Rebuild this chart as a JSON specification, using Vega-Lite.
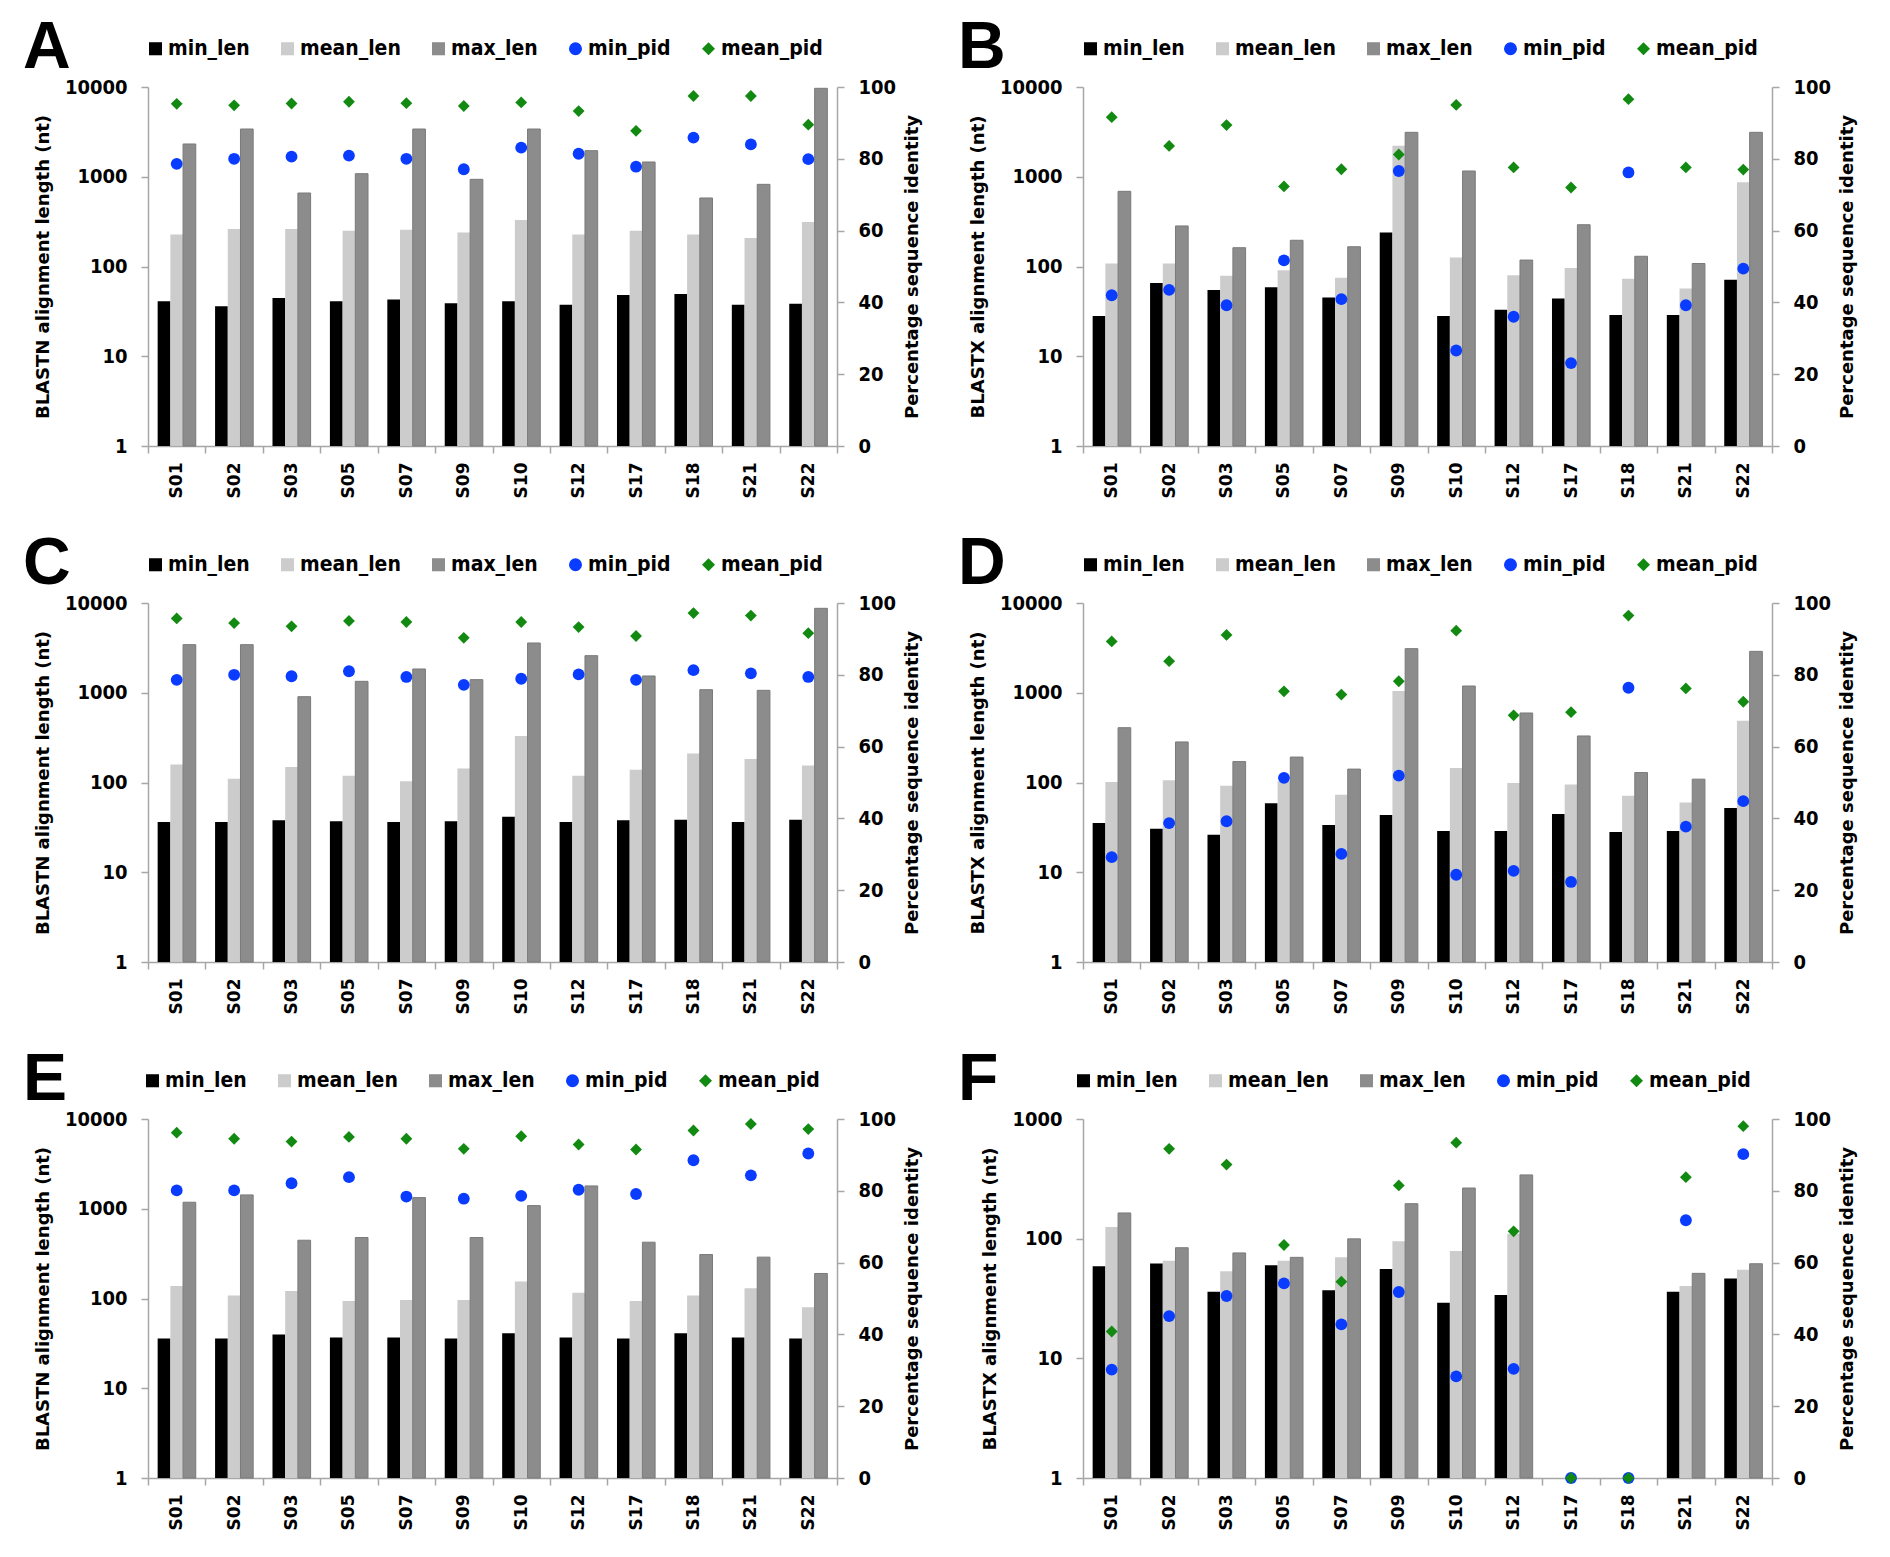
{
  "$schema": "https://vega.github.io/schema/vega-lite/v6.json",
  "background": "white",
  "padding": {"left": 23, "top": 38, "right": 5, "bottom": 5},
  "datasets": {
    "d": [
      {"p": "A", "s": "S01", "min_len": 41, "mean_len": 228, "max_len": 2317, "min_pid": 78.6, "mean_pid": 95.3},
      {"p": "A", "s": "S02", "min_len": 36, "mean_len": 262, "max_len": 3404, "min_pid": 80.0, "mean_pid": 94.9},
      {"p": "A", "s": "S03", "min_len": 44.6, "mean_len": 262, "max_len": 659, "min_pid": 80.6, "mean_pid": 95.4},
      {"p": "A", "s": "S05", "min_len": 41, "mean_len": 251, "max_len": 1082, "min_pid": 80.9, "mean_pid": 95.9},
      {"p": "A", "s": "S07", "min_len": 43, "mean_len": 257, "max_len": 3404, "min_pid": 80.0, "mean_pid": 95.5},
      {"p": "A", "s": "S09", "min_len": 39, "mean_len": 240, "max_len": 936, "min_pid": 77.1, "mean_pid": 94.7},
      {"p": "A", "s": "S10", "min_len": 41, "mean_len": 330, "max_len": 3404, "min_pid": 83.1, "mean_pid": 95.7},
      {"p": "A", "s": "S12", "min_len": 37.6, "mean_len": 228, "max_len": 1953, "min_pid": 81.4, "mean_pid": 93.3},
      {"p": "A", "s": "S17", "min_len": 48, "mean_len": 251, "max_len": 1460, "min_pid": 77.8, "mean_pid": 87.8},
      {"p": "A", "s": "S18", "min_len": 49.4, "mean_len": 228, "max_len": 580, "min_pid": 85.9, "mean_pid": 97.5},
      {"p": "A", "s": "S21", "min_len": 37.6, "mean_len": 208, "max_len": 823, "min_pid": 84.0, "mean_pid": 97.5},
      {"p": "A", "s": "S22", "min_len": 38.5, "mean_len": 313, "max_len": 9670, "min_pid": 79.9, "mean_pid": 89.5},
      {"p": "B", "s": "S01", "min_len": 28, "mean_len": 108, "max_len": 688, "min_pid": 42.0, "mean_pid": 91.6},
      {"p": "B", "s": "S02", "min_len": 65.5, "mean_len": 108, "max_len": 283, "min_pid": 43.5, "mean_pid": 83.6},
      {"p": "B", "s": "S03", "min_len": 54.7, "mean_len": 79, "max_len": 162, "min_pid": 39.2, "mean_pid": 89.4},
      {"p": "B", "s": "S05", "min_len": 58.6, "mean_len": 91, "max_len": 196, "min_pid": 51.7, "mean_pid": 72.3},
      {"p": "B", "s": "S07", "min_len": 45, "mean_len": 75, "max_len": 166, "min_pid": 40.9, "mean_pid": 77.1},
      {"p": "B", "s": "S09", "min_len": 240, "mean_len": 2220, "max_len": 3126, "min_pid": 76.6, "mean_pid": 81.2},
      {"p": "B", "s": "S10", "min_len": 28, "mean_len": 126, "max_len": 1159, "min_pid": 26.6, "mean_pid": 95.0},
      {"p": "B", "s": "S12", "min_len": 33, "mean_len": 80, "max_len": 118, "min_pid": 36.0, "mean_pid": 77.6},
      {"p": "B", "s": "S17", "min_len": 44, "mean_len": 96, "max_len": 292, "min_pid": 23.1, "mean_pid": 72.0},
      {"p": "B", "s": "S18", "min_len": 28.8, "mean_len": 73, "max_len": 130, "min_pid": 76.2, "mean_pid": 96.6},
      {"p": "B", "s": "S21", "min_len": 28.8, "mean_len": 57, "max_len": 108, "min_pid": 39.2, "mean_pid": 77.6},
      {"p": "B", "s": "S22", "min_len": 71, "mean_len": 867, "max_len": 3126, "min_pid": 49.4, "mean_pid": 77.0},
      {"p": "C", "s": "S01", "min_len": 36.3, "mean_len": 159, "max_len": 3435, "min_pid": 78.6, "mean_pid": 95.7},
      {"p": "C", "s": "S02", "min_len": 36.3, "mean_len": 110, "max_len": 3435, "min_pid": 80.0, "mean_pid": 94.4},
      {"p": "C", "s": "S03", "min_len": 37.9, "mean_len": 149, "max_len": 904, "min_pid": 79.6, "mean_pid": 93.5},
      {"p": "C", "s": "S05", "min_len": 36.9, "mean_len": 119, "max_len": 1340, "min_pid": 81.0, "mean_pid": 95.0},
      {"p": "C", "s": "S07", "min_len": 36.3, "mean_len": 103, "max_len": 1840, "min_pid": 79.4, "mean_pid": 94.7},
      {"p": "C", "s": "S09", "min_len": 36.9, "mean_len": 143, "max_len": 1400, "min_pid": 77.2, "mean_pid": 90.3},
      {"p": "C", "s": "S10", "min_len": 41.6, "mean_len": 330, "max_len": 3584, "min_pid": 78.9, "mean_pid": 94.7},
      {"p": "C", "s": "S12", "min_len": 36.3, "mean_len": 119, "max_len": 2589, "min_pid": 80.1, "mean_pid": 93.3},
      {"p": "C", "s": "S17", "min_len": 37.9, "mean_len": 139, "max_len": 1538, "min_pid": 78.6, "mean_pid": 90.8},
      {"p": "C", "s": "S18", "min_len": 38.5, "mean_len": 210, "max_len": 1082, "min_pid": 81.3, "mean_pid": 97.2},
      {"p": "C", "s": "S21", "min_len": 36.3, "mean_len": 183, "max_len": 1064, "min_pid": 80.4, "mean_pid": 96.5},
      {"p": "C", "s": "S22", "min_len": 38.5, "mean_len": 155, "max_len": 8724, "min_pid": 79.4, "mean_pid": 91.6},
      {"p": "D", "s": "S01", "min_len": 35.4, "mean_len": 101, "max_len": 408, "min_pid": 29.2, "mean_pid": 89.3},
      {"p": "D", "s": "S02", "min_len": 30.6, "mean_len": 106, "max_len": 283, "min_pid": 38.7, "mean_pid": 83.8},
      {"p": "D", "s": "S03", "min_len": 26.2, "mean_len": 92, "max_len": 171, "min_pid": 39.2, "mean_pid": 91.1},
      {"p": "D", "s": "S05", "min_len": 58.6, "mean_len": 103, "max_len": 192, "min_pid": 51.3, "mean_pid": 75.4},
      {"p": "D", "s": "S07", "min_len": 33.6, "mean_len": 73, "max_len": 141, "min_pid": 30.1, "mean_pid": 74.5},
      {"p": "D", "s": "S09", "min_len": 43.4, "mean_len": 1046, "max_len": 3100, "min_pid": 51.9, "mean_pid": 78.2},
      {"p": "D", "s": "S10", "min_len": 28.8, "mean_len": 145, "max_len": 1189, "min_pid": 24.3, "mean_pid": 92.3},
      {"p": "D", "s": "S12", "min_len": 28.8, "mean_len": 99, "max_len": 595, "min_pid": 25.4, "mean_pid": 68.7},
      {"p": "D", "s": "S17", "min_len": 44.6, "mean_len": 95, "max_len": 330, "min_pid": 22.3, "mean_pid": 69.6},
      {"p": "D", "s": "S18", "min_len": 28.1, "mean_len": 71, "max_len": 129, "min_pid": 76.4, "mean_pid": 96.5},
      {"p": "D", "s": "S21", "min_len": 28.8, "mean_len": 60, "max_len": 109, "min_pid": 37.7, "mean_pid": 76.2},
      {"p": "D", "s": "S22", "min_len": 52, "mean_len": 489, "max_len": 2893, "min_pid": 44.8, "mean_pid": 72.5},
      {"p": "E", "s": "S01", "min_len": 35.9, "mean_len": 138, "max_len": 1182, "min_pid": 80.1, "mean_pid": 96.2},
      {"p": "E", "s": "S02", "min_len": 35.9, "mean_len": 108, "max_len": 1426, "min_pid": 80.1, "mean_pid": 94.5},
      {"p": "E", "s": "S03", "min_len": 39.7, "mean_len": 121, "max_len": 446, "min_pid": 82.1, "mean_pid": 93.7},
      {"p": "E", "s": "S05", "min_len": 36.8, "mean_len": 94, "max_len": 478, "min_pid": 83.8, "mean_pid": 95.0},
      {"p": "E", "s": "S07", "min_len": 36.8, "mean_len": 96, "max_len": 1331, "min_pid": 78.4, "mean_pid": 94.5},
      {"p": "E", "s": "S09", "min_len": 35.9, "mean_len": 96, "max_len": 478, "min_pid": 77.8, "mean_pid": 91.7},
      {"p": "E", "s": "S10", "min_len": 41.1, "mean_len": 155, "max_len": 1084, "min_pid": 78.6, "mean_pid": 95.2},
      {"p": "E", "s": "S12", "min_len": 36.8, "mean_len": 116, "max_len": 1796, "min_pid": 80.3, "mean_pid": 92.9},
      {"p": "E", "s": "S17", "min_len": 35.9, "mean_len": 94, "max_len": 424, "min_pid": 79.1, "mean_pid": 91.5},
      {"p": "E", "s": "S18", "min_len": 41.1, "mean_len": 108, "max_len": 309, "min_pid": 88.5, "mean_pid": 96.8},
      {"p": "E", "s": "S21", "min_len": 36.8, "mean_len": 130, "max_len": 289, "min_pid": 84.3, "mean_pid": 98.6},
      {"p": "E", "s": "S22", "min_len": 35.9, "mean_len": 80, "max_len": 190, "min_pid": 90.4, "mean_pid": 97.2},
      {"p": "F", "s": "S01", "min_len": 58.9, "mean_len": 125, "max_len": 164, "min_pid": 30.2, "mean_pid": 40.8},
      {"p": "F", "s": "S02", "min_len": 62, "mean_len": 65.4, "max_len": 84, "min_pid": 45.1, "mean_pid": 91.7},
      {"p": "F", "s": "S03", "min_len": 36, "mean_len": 53.3, "max_len": 76, "min_pid": 50.7, "mean_pid": 87.3},
      {"p": "F", "s": "S05", "min_len": 60, "mean_len": 65.4, "max_len": 69.8, "min_pid": 54.2, "mean_pid": 64.9},
      {"p": "F", "s": "S07", "min_len": 37, "mean_len": 69.8, "max_len": 99.6, "min_pid": 42.8, "mean_pid": 54.7},
      {"p": "F", "s": "S09", "min_len": 55.8, "mean_len": 95, "max_len": 196, "min_pid": 51.8, "mean_pid": 81.5},
      {"p": "F", "s": "S10", "min_len": 29.1, "mean_len": 79, "max_len": 265, "min_pid": 28.3, "mean_pid": 93.4},
      {"p": "F", "s": "S12", "min_len": 33.9, "mean_len": 110, "max_len": 341, "min_pid": 30.4, "mean_pid": 68.7},
      {"p": "F", "s": "S17", "min_len": null, "mean_len": null, "max_len": null, "min_pid": 0, "mean_pid": 0},
      {"p": "F", "s": "S18", "min_len": null, "mean_len": null, "max_len": null, "min_pid": 0, "mean_pid": 0},
      {"p": "F", "s": "S21", "min_len": 36, "mean_len": 40.2, "max_len": 51.3, "min_pid": 71.8, "mean_pid": 83.8},
      {"p": "F", "s": "S22", "min_len": 46.5, "mean_len": 55, "max_len": 61.7, "min_pid": 90.2, "mean_pid": 98.0}
    ]
  },
  "data": {"name": "d"},
  "spacing": 56,
  "resolve": {
    "scale": {"color": "independent", "shape": "independent"},
    "legend": {"color": "independent", "shape": "independent"}
  },
  "vconcat": [
    {
      "spacing": 36,
      "resolve": {
        "scale": {"color": "independent", "shape": "independent"},
        "legend": {"color": "independent", "shape": "independent"}
      },
      "hconcat": [
        {
          "width": 689, "height": 359,
          "transform": [
            {"filter": "datum.p === 'A'"},
            {"fold": ["min_len", "mean_len", "max_len", "min_pid", "mean_pid"], "as": ["series", "value"]}
          ],
          "layer": [
            {
              "transform": [{"filter": "indexof(['min_len','mean_len','max_len'], datum.series) >= 0 && isValid(datum.value)"}],
              "mark": {"type": "bar", "strokeWidth": 1},
              "encoding": {
                "x": {"field": "s", "type": "nominal", "title": null, "scale": {"paddingInner": 0, "paddingOuter": 0}},
                "xOffset": {"field": "series", "type": "nominal", "sort": ["min_len", "mean_len", "max_len"], "scale": {"paddingInner": 0, "paddingOuter": 0.76}},
                "y": {"field": "value", "type": "quantitative", "title": "BLASTN alignment length (nt)", "scale": {"type": "log", "domain": [1, 10000]}, "axis": {"values": [1, 10, 100, 1000, 10000], "format": "d"}},
                "y2": {"datum": 1},
                "stroke": {"condition": {"test": "datum.series === 'max_len'", "value": "#7a7a7a"}, "value": "transparent"},
                "color": {"field": "series", "type": "nominal", "title": "A", "scale": {"domain": ["min_len", "mean_len", "max_len", "min_pid", "mean_pid"], "range": ["#000000", "#cccccc", "#8c8c8c", "#0a3cff", "#128a12"]}}
              }
            },
            {
              "transform": [{"filter": "indexof(['min_pid','mean_pid'], datum.series) >= 0"}],
              "mark": {"type": "point", "filled": true, "size": 140, "opacity": 1},
              "encoding": {
                "x": {"field": "s", "type": "nominal", "title": null},
                "y": {"field": "value", "type": "quantitative", "title": "Percentage sequence identity", "scale": {"domain": [0, 100]}, "axis": {"orient": "right", "values": [0, 20, 40, 60, 80, 100]}},
                "color": {"field": "series", "type": "nominal", "title": "A", "scale": {"domain": ["min_len", "mean_len", "max_len", "min_pid", "mean_pid"], "range": ["#000000", "#cccccc", "#8c8c8c", "#0a3cff", "#128a12"]}},
                "shape": {"field": "series", "type": "nominal", "title": "A", "scale": {"domain": ["min_len", "mean_len", "max_len", "min_pid", "mean_pid"], "range": ["square", "square", "square", "circle", "diamond"]}}
              }
            }
          ],
          "resolve": {"scale": {"y": "independent"}}
        },
        {
          "width": 689, "height": 359,
          "transform": [
            {"filter": "datum.p === 'B'"},
            {"fold": ["min_len", "mean_len", "max_len", "min_pid", "mean_pid"], "as": ["series", "value"]}
          ],
          "layer": [
            {
              "transform": [{"filter": "indexof(['min_len','mean_len','max_len'], datum.series) >= 0 && isValid(datum.value)"}],
              "mark": {"type": "bar", "strokeWidth": 1},
              "encoding": {
                "x": {"field": "s", "type": "nominal", "title": null, "scale": {"paddingInner": 0, "paddingOuter": 0}},
                "xOffset": {"field": "series", "type": "nominal", "sort": ["min_len", "mean_len", "max_len"], "scale": {"paddingInner": 0, "paddingOuter": 0.76}},
                "y": {"field": "value", "type": "quantitative", "title": "BLASTX alignment length (nt)", "scale": {"type": "log", "domain": [1, 10000]}, "axis": {"values": [1, 10, 100, 1000, 10000], "format": "d"}},
                "y2": {"datum": 1},
                "stroke": {"condition": {"test": "datum.series === 'max_len'", "value": "#7a7a7a"}, "value": "transparent"},
                "color": {"field": "series", "type": "nominal", "title": "B", "scale": {"domain": ["min_len", "mean_len", "max_len", "min_pid", "mean_pid"], "range": ["#000000", "#cccccc", "#8c8c8c", "#0a3cff", "#128a12"]}}
              }
            },
            {
              "transform": [{"filter": "indexof(['min_pid','mean_pid'], datum.series) >= 0"}],
              "mark": {"type": "point", "filled": true, "size": 140, "opacity": 1},
              "encoding": {
                "x": {"field": "s", "type": "nominal", "title": null},
                "y": {"field": "value", "type": "quantitative", "title": "Percentage sequence identity", "scale": {"domain": [0, 100]}, "axis": {"orient": "right", "values": [0, 20, 40, 60, 80, 100]}},
                "color": {"field": "series", "type": "nominal", "title": "B", "scale": {"domain": ["min_len", "mean_len", "max_len", "min_pid", "mean_pid"], "range": ["#000000", "#cccccc", "#8c8c8c", "#0a3cff", "#128a12"]}},
                "shape": {"field": "series", "type": "nominal", "title": "B", "scale": {"domain": ["min_len", "mean_len", "max_len", "min_pid", "mean_pid"], "range": ["square", "square", "square", "circle", "diamond"]}}
              }
            }
          ],
          "resolve": {"scale": {"y": "independent"}}
        }
      ]
    },
    {
      "spacing": 36,
      "resolve": {
        "scale": {"color": "independent", "shape": "independent"},
        "legend": {"color": "independent", "shape": "independent"}
      },
      "hconcat": [
        {
          "width": 689, "height": 359,
          "transform": [
            {"filter": "datum.p === 'C'"},
            {"fold": ["min_len", "mean_len", "max_len", "min_pid", "mean_pid"], "as": ["series", "value"]}
          ],
          "layer": [
            {
              "transform": [{"filter": "indexof(['min_len','mean_len','max_len'], datum.series) >= 0 && isValid(datum.value)"}],
              "mark": {"type": "bar", "strokeWidth": 1},
              "encoding": {
                "x": {"field": "s", "type": "nominal", "title": null, "scale": {"paddingInner": 0, "paddingOuter": 0}},
                "xOffset": {"field": "series", "type": "nominal", "sort": ["min_len", "mean_len", "max_len"], "scale": {"paddingInner": 0, "paddingOuter": 0.76}},
                "y": {"field": "value", "type": "quantitative", "title": "BLASTN alignment length (nt)", "scale": {"type": "log", "domain": [1, 10000]}, "axis": {"values": [1, 10, 100, 1000, 10000], "format": "d"}},
                "y2": {"datum": 1},
                "stroke": {"condition": {"test": "datum.series === 'max_len'", "value": "#7a7a7a"}, "value": "transparent"},
                "color": {"field": "series", "type": "nominal", "title": "C", "scale": {"domain": ["min_len", "mean_len", "max_len", "min_pid", "mean_pid"], "range": ["#000000", "#cccccc", "#8c8c8c", "#0a3cff", "#128a12"]}}
              }
            },
            {
              "transform": [{"filter": "indexof(['min_pid','mean_pid'], datum.series) >= 0"}],
              "mark": {"type": "point", "filled": true, "size": 140, "opacity": 1},
              "encoding": {
                "x": {"field": "s", "type": "nominal", "title": null},
                "y": {"field": "value", "type": "quantitative", "title": "Percentage sequence identity", "scale": {"domain": [0, 100]}, "axis": {"orient": "right", "values": [0, 20, 40, 60, 80, 100]}},
                "color": {"field": "series", "type": "nominal", "title": "C", "scale": {"domain": ["min_len", "mean_len", "max_len", "min_pid", "mean_pid"], "range": ["#000000", "#cccccc", "#8c8c8c", "#0a3cff", "#128a12"]}},
                "shape": {"field": "series", "type": "nominal", "title": "C", "scale": {"domain": ["min_len", "mean_len", "max_len", "min_pid", "mean_pid"], "range": ["square", "square", "square", "circle", "diamond"]}}
              }
            }
          ],
          "resolve": {"scale": {"y": "independent"}}
        },
        {
          "width": 689, "height": 359,
          "transform": [
            {"filter": "datum.p === 'D'"},
            {"fold": ["min_len", "mean_len", "max_len", "min_pid", "mean_pid"], "as": ["series", "value"]}
          ],
          "layer": [
            {
              "transform": [{"filter": "indexof(['min_len','mean_len','max_len'], datum.series) >= 0 && isValid(datum.value)"}],
              "mark": {"type": "bar", "strokeWidth": 1},
              "encoding": {
                "x": {"field": "s", "type": "nominal", "title": null, "scale": {"paddingInner": 0, "paddingOuter": 0}},
                "xOffset": {"field": "series", "type": "nominal", "sort": ["min_len", "mean_len", "max_len"], "scale": {"paddingInner": 0, "paddingOuter": 0.76}},
                "y": {"field": "value", "type": "quantitative", "title": "BLASTX alignment length (nt)", "scale": {"type": "log", "domain": [1, 10000]}, "axis": {"values": [1, 10, 100, 1000, 10000], "format": "d"}},
                "y2": {"datum": 1},
                "stroke": {"condition": {"test": "datum.series === 'max_len'", "value": "#7a7a7a"}, "value": "transparent"},
                "color": {"field": "series", "type": "nominal", "title": "D", "scale": {"domain": ["min_len", "mean_len", "max_len", "min_pid", "mean_pid"], "range": ["#000000", "#cccccc", "#8c8c8c", "#0a3cff", "#128a12"]}}
              }
            },
            {
              "transform": [{"filter": "indexof(['min_pid','mean_pid'], datum.series) >= 0"}],
              "mark": {"type": "point", "filled": true, "size": 140, "opacity": 1},
              "encoding": {
                "x": {"field": "s", "type": "nominal", "title": null},
                "y": {"field": "value", "type": "quantitative", "title": "Percentage sequence identity", "scale": {"domain": [0, 100]}, "axis": {"orient": "right", "values": [0, 20, 40, 60, 80, 100]}},
                "color": {"field": "series", "type": "nominal", "title": "D", "scale": {"domain": ["min_len", "mean_len", "max_len", "min_pid", "mean_pid"], "range": ["#000000", "#cccccc", "#8c8c8c", "#0a3cff", "#128a12"]}},
                "shape": {"field": "series", "type": "nominal", "title": "D", "scale": {"domain": ["min_len", "mean_len", "max_len", "min_pid", "mean_pid"], "range": ["square", "square", "square", "circle", "diamond"]}}
              }
            }
          ],
          "resolve": {"scale": {"y": "independent"}}
        }
      ]
    },
    {
      "spacing": 36,
      "resolve": {
        "scale": {"color": "independent", "shape": "independent"},
        "legend": {"color": "independent", "shape": "independent"}
      },
      "hconcat": [
        {
          "width": 689, "height": 359,
          "transform": [
            {"filter": "datum.p === 'E'"},
            {"fold": ["min_len", "mean_len", "max_len", "min_pid", "mean_pid"], "as": ["series", "value"]}
          ],
          "layer": [
            {
              "transform": [{"filter": "indexof(['min_len','mean_len','max_len'], datum.series) >= 0 && isValid(datum.value)"}],
              "mark": {"type": "bar", "strokeWidth": 1},
              "encoding": {
                "x": {"field": "s", "type": "nominal", "title": null, "scale": {"paddingInner": 0, "paddingOuter": 0}},
                "xOffset": {"field": "series", "type": "nominal", "sort": ["min_len", "mean_len", "max_len"], "scale": {"paddingInner": 0, "paddingOuter": 0.76}},
                "y": {"field": "value", "type": "quantitative", "title": "BLASTN alignment length (nt)", "scale": {"type": "log", "domain": [1, 10000]}, "axis": {"values": [1, 10, 100, 1000, 10000], "format": "d"}},
                "y2": {"datum": 1},
                "stroke": {"condition": {"test": "datum.series === 'max_len'", "value": "#7a7a7a"}, "value": "transparent"},
                "color": {"field": "series", "type": "nominal", "title": "E", "scale": {"domain": ["min_len", "mean_len", "max_len", "min_pid", "mean_pid"], "range": ["#000000", "#cccccc", "#8c8c8c", "#0a3cff", "#128a12"]}}
              }
            },
            {
              "transform": [{"filter": "indexof(['min_pid','mean_pid'], datum.series) >= 0"}],
              "mark": {"type": "point", "filled": true, "size": 140, "opacity": 1},
              "encoding": {
                "x": {"field": "s", "type": "nominal", "title": null},
                "y": {"field": "value", "type": "quantitative", "title": "Percentage sequence identity", "scale": {"domain": [0, 100]}, "axis": {"orient": "right", "values": [0, 20, 40, 60, 80, 100]}},
                "color": {"field": "series", "type": "nominal", "title": "E", "scale": {"domain": ["min_len", "mean_len", "max_len", "min_pid", "mean_pid"], "range": ["#000000", "#cccccc", "#8c8c8c", "#0a3cff", "#128a12"]}},
                "shape": {"field": "series", "type": "nominal", "title": "E", "scale": {"domain": ["min_len", "mean_len", "max_len", "min_pid", "mean_pid"], "range": ["square", "square", "square", "circle", "diamond"]}}
              }
            }
          ],
          "resolve": {"scale": {"y": "independent"}}
        },
        {
          "width": 689, "height": 359,
          "transform": [
            {"filter": "datum.p === 'F'"},
            {"fold": ["min_len", "mean_len", "max_len", "min_pid", "mean_pid"], "as": ["series", "value"]}
          ],
          "layer": [
            {
              "transform": [{"filter": "indexof(['min_len','mean_len','max_len'], datum.series) >= 0 && isValid(datum.value)"}],
              "mark": {"type": "bar", "strokeWidth": 1},
              "encoding": {
                "x": {"field": "s", "type": "nominal", "title": null, "scale": {"paddingInner": 0, "paddingOuter": 0}},
                "xOffset": {"field": "series", "type": "nominal", "sort": ["min_len", "mean_len", "max_len"], "scale": {"paddingInner": 0, "paddingOuter": 0.76}},
                "y": {"field": "value", "type": "quantitative", "title": "BLASTX alignment length (nt)", "scale": {"type": "log", "domain": [1, 1000]}, "axis": {"values": [1, 10, 100, 1000], "format": "d"}},
                "y2": {"datum": 1},
                "stroke": {"condition": {"test": "datum.series === 'max_len'", "value": "#7a7a7a"}, "value": "transparent"},
                "color": {"field": "series", "type": "nominal", "title": "F", "scale": {"domain": ["min_len", "mean_len", "max_len", "min_pid", "mean_pid"], "range": ["#000000", "#cccccc", "#8c8c8c", "#0a3cff", "#128a12"]}}
              }
            },
            {
              "transform": [{"filter": "indexof(['min_pid','mean_pid'], datum.series) >= 0"}],
              "mark": {"type": "point", "filled": true, "size": 140, "opacity": 1},
              "encoding": {
                "x": {"field": "s", "type": "nominal", "title": null},
                "y": {"field": "value", "type": "quantitative", "title": "Percentage sequence identity", "scale": {"domain": [0, 100]}, "axis": {"orient": "right", "values": [0, 20, 40, 60, 80, 100]}},
                "color": {"field": "series", "type": "nominal", "title": "F", "scale": {"domain": ["min_len", "mean_len", "max_len", "min_pid", "mean_pid"], "range": ["#000000", "#cccccc", "#8c8c8c", "#0a3cff", "#128a12"]}},
                "shape": {"field": "series", "type": "nominal", "title": "F", "scale": {"domain": ["min_len", "mean_len", "max_len", "min_pid", "mean_pid"], "range": ["square", "square", "square", "circle", "diamond"]}}
              }
            }
          ],
          "resolve": {"scale": {"y": "independent"}}
        }
      ]
    }
  ],
  "config": {
    "view": {"stroke": null},
    "font": "DejaVu Sans",
    "axis": {
      "grid": false,
      "domainColor": "#a6a6a6",
      "domainWidth": 1.5,
      "tickColor": "#a6a6a6",
      "tickWidth": 1.5,
      "labelColor": "#000000",
      "titleColor": "#000000",
      "labelFont": "DejaVu Sans Condensed",
      "labelFontWeight": "bold",
      "labelFontSize": 20,
      "titleFont": "DejaVu Sans",
      "titleFontSize": 18,
      "titleFontWeight": "bold"
    },
    "axisX": {
      "labelAngle": 270,
      "tickBand": "extent",
      "tickSize": 7,
      "labelPadding": 9,
      "labelFont": "DejaVu Sans",
      "labelFontWeight": "bold",
      "labelFontSize": 17
    },
    "axisY": {"tickSize": 7, "labelPadding": 14},
    "axisLeft": {"titlePadding": 12},
    "axisRight": {"titlePadding": 8, "titleAngle": 270, "titleBaseline": "top"},
    "legend": {
      "orient": "none",
      "legendX": -125,
      "legendY": -49,
      "direction": "horizontal",
      "columns": 5,
      "padding": 0,
      "titleOrient": "left",
      "titleBaseline": "middle",
      "titleFont": "Liberation Sans",
      "titleFontSize": 66,
      "titleFontWeight": "bold",
      "titleColor": "#000000",
      "titlePadding": 74,
      "labelFont": "DejaVu Sans Condensed",
      "labelFontWeight": "bold",
      "labelFontSize": 21,
      "labelColor": "#000000",
      "labelOffset": 2,
      "symbolSize": 170,
      "columnPadding": 27
    }
  }
}
